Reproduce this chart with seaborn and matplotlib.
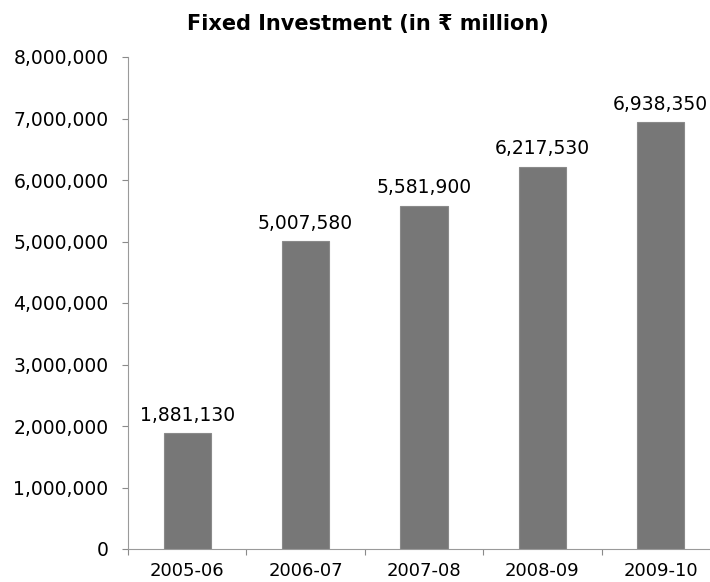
import matplotlib
matplotlib.use("Agg")
import matplotlib.pyplot as plt
import seaborn as sns
import pandas as pd
from matplotlib.ticker import FuncFormatter, FixedLocator

# Fixed investment by fiscal year (in rupee million)
years = ["2005-06", "2006-07", "2007-08", "2008-09", "2009-10"]
investment = [1881130, 5007580, 5581900, 6217530, 6938350]
y_ticks = [0, 1000000, 2000000, 3000000, 4000000, 5000000, 6000000, 7000000, 8000000]

sns.set_theme(style="white")
plt.rcParams["font.family"] = ["DejaVu Sans", "Noto Sans"]

df = pd.DataFrame({"year": years, "investment": investment})

fig = plt.figure(figsize=(7.10, 5.82), dpi=100)
ax = fig.add_axes([128 / 710, 1 - 549 / 582, (720 - 128) / 710, (549 - 57) / 582])

sns.barplot(data=df, x="year", y="investment", color="#777777", saturation=1,
            width=0.4, edgecolor="#8a8a8a", linewidth=0.8, ax=ax)

ax.set_xlim(-0.5, 4.5)
ax.set_ylim(0, 8000000)
ax.yaxis.set_major_locator(FixedLocator(y_ticks))
ax.yaxis.set_major_formatter(FuncFormatter(lambda v, p: f"{int(v):,}"))

# category separators drawn as minor ticks on the x axis
ax.set_xticks([i - 0.5 for i in range(len(years) + 1)], minor=True)
ax.tick_params(axis="x", which="major", length=0, pad=9, labelsize=13, labelcolor="black")
ax.tick_params(axis="x", which="minor", length=4, width=0.8, color="#8a8a8a", direction="out", bottom=True)
ax.tick_params(axis="y", which="major", length=4, width=0.8, color="#8a8a8a", direction="out",
               left=True, pad=10, labelsize=13.5, labelcolor="black")

for side in ["top", "right"]:
    ax.spines[side].set_visible(False)
for side in ["left", "bottom"]:
    ax.spines[side].set_color("#9a9a9a")
    ax.spines[side].set_linewidth(0.8)

ax.set_xlabel("")
ax.set_ylabel("")

for i, v in enumerate(investment):
    ax.annotate(f"{v:,}", (i, v), xytext=(0, 6), textcoords="offset points",
                ha="center", va="bottom", fontsize=13.5, color="black")

fig.text(367.5 / 710, 1 - 24 / 582, "Fixed Investment (in \u20b9 million)",
         ha="center", va="center", fontsize=15, fontweight="bold", color="black")

fig.savefig("out.png", dpi=100)
